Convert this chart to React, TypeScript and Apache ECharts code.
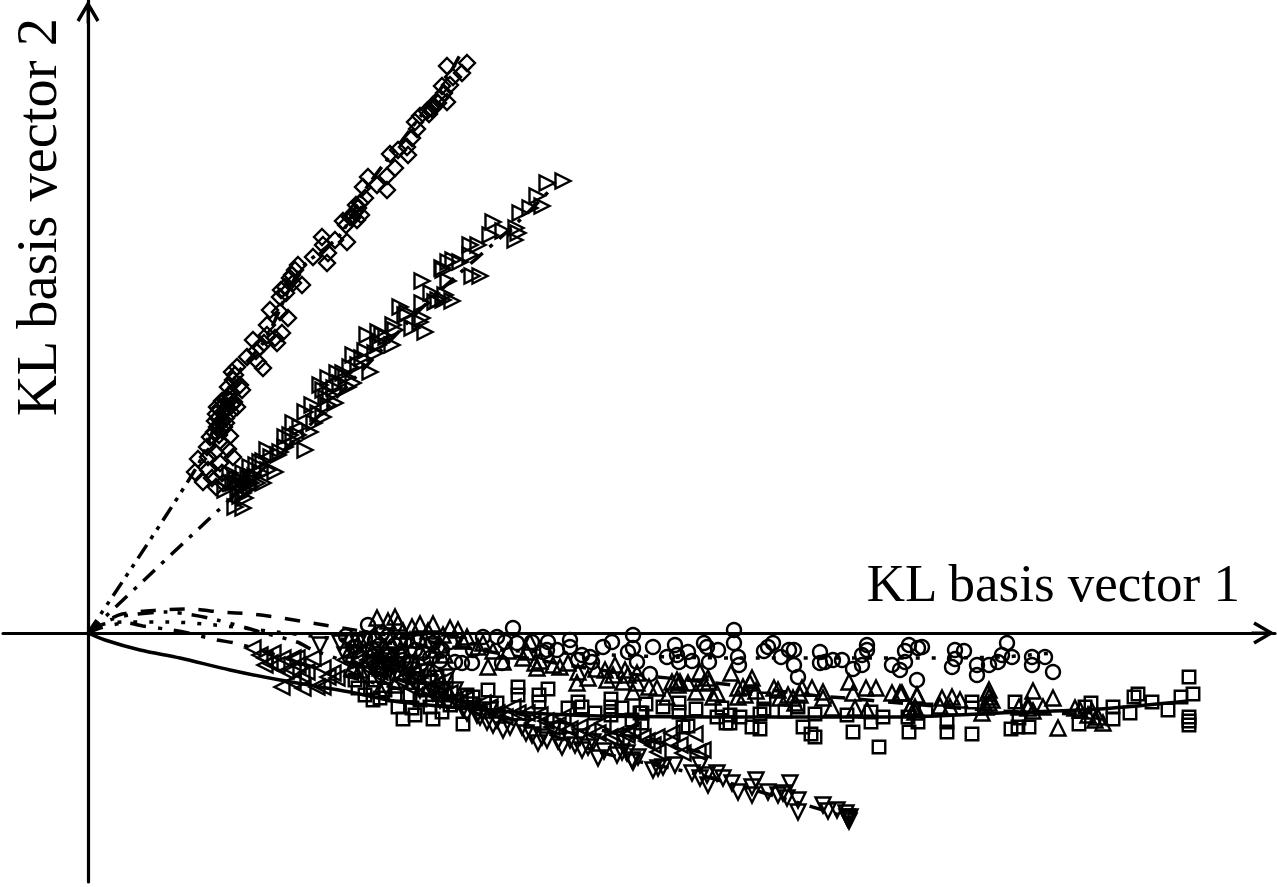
import React, { useEffect, useRef } from "react";
import * as echarts from "echarts";

const xAxisTitle = "KL basis vector 1";
const yAxisTitle = "KL basis vector 2";

const diamondPoints = [[379,570],[374,560],[359,567],[365,556],[354,547],[362,548],[359,531],[350,530],[345,528],[339,522],[332,517],[327,511],[329,504],[324,495],[319,486],[320,478],[310,483],[302,479],[307,465],[299,457],[289,448],[299,443],[280,456],[275,446],[277,435],[272,430],[267,421],[269,413],[255,412],[262,416],[247,393],[259,391],[234,396],[235,388],[240,380],[239,370],[225,376],[210,368],[207,363],[202,355],[214,348],[197,346],[204,358],[192,336],[182,323],[192,321],[200,315],[179,308],[165,293],[179,298],[194,300],[172,286],[189,290],[159,276],[170,271],[175,265],[149,266],[144,261],[145,253],[140,246],[154,243],[139,235],[129,226],[149,226],[139,226],[135,220],[130,215],[129,206],[134,203],[122,196],[142,197],[119,186],[134,190],[140,184],[127,181],[120,176],[110,174],[145,176],[132,170],[107,161],[120,163],[134,160],[115,151],[124,155],[128,146],[135,150],
  [134,232],[137,229],[142,233],[131,224],[136,222],[143,221],[128,219],[133,212],[138,215],[144,228],[127,212],[131,208],[136,206],[126,201],[131,198],[138,210],[141,238],[146,231],[270,425],[273,418],[264,415],[268,428],[258,408],[344,524],[341,519],[352,535],[356,540],[193,343],[198,340],[205,350],[168,282],[176,290],[187,295],[147,258],[152,248]];

const rightTrianglePoints = [[475,452],[459,450],[449,437],[454,427],[432,420],[428,405],[427,393],[405,411],[402,398],[390,388],[382,388],[382,378],[372,371],[360,371],[354,365],[357,338],[350,333],[332,311],[337,301],[307,303],[290,301],[290,288],[334,352],[392,357],[384,357],[364,332],[355,333],[347,331],[334,330],[312,326],[319,320],[334,315],[324,305],[279,298],[294,298],[305,308],[304,288],[292,290],[265,278],[274,275],[282,261],[262,266],[260,246],[265,250],[240,255],[249,260],[255,260],[232,248],[235,243],[242,238],[247,230],[235,216],[224,228],[217,221],[205,210],[212,206],[222,201],[217,183],[197,196],[202,198],[192,181],[179,183],[172,171],[187,161],[180,163],[162,166],[175,150],[159,150],[149,150],[142,160],[137,143],[155,140],[147,126],[155,125],[164,156],[155,160],[162,146],
  [355,363],[365,373],[150,145],[155,148],[158,143],[163,150],[145,150],[152,153],[160,155],[167,157],[147,155],[169,150],[173,160],[152,137],[157,135],[168,168],[175,172],[183,176],[190,178],[197,186],[205,192],[210,198],[226,210],[230,220],[240,228],[238,235],[246,245],[252,250],[258,256],[270,268],[277,282],[287,280],[298,296],[317,318],[343,340],[360,352],[415,402],[430,400],[442,425]];

const circlePoints = [[280,8],[425,5],[264,-7],[395,-4],[409,-4],[417,-9],[367,-29],[374,-30],[384,-30],[414,-30],[342,-25],[354,-17],[385,-17],[429,-10],[444,-9],[460,-9],[459,-17],[469,-17],[482,-7],[482,-14],[494,-22],[490,-27],[502,-24],[504,-29],[515,-14],[524,-9],[540,-19],[545,-2],[545,-15],[549,-29],[324,-30],[294,0],[277,-5],[285,-17],[272,-24],[319,-7],[335,-20],[362,-9],[455,-19],[562,-41],[565,-14],[579,-24],[587,-12],[589,-22],[591,-29],[600,-19],[604,-28],[616,-10],[619,-14],[630,-17],[621,-29],[646,3],[646,-10],[650,-24],[651,-32],[676,-18],[680,-14],[685,-10],[693,-24],[701,-17],[706,-17],[706,-32],[710,-44],[732,-19],[732,-30],[737,-29],[745,-27],[754,-27],[765,-36],[774,-22],[774,-32],[779,-12],[779,-17],[804,-32],[812,-37],[817,-18],[817,-29],[821,-12],[829,-47],[830,-15],[834,-14],[867,-17],[876,-18],[867,-26],[864,-34],[889,-32],[889,-42],[901,-32],[910,-29],[914,-22],[919,-10],[924,-24],[944,-24],[944,-32],[957,-24],[965,-39],[292,-12],[307,-12],[327,-17],[312,-7],[302,-22],
  [282,-32],[297,-30],[315,-27],[287,-7],[300,-3],[345,-10],[352,-28],[268,-14],[258,-3],[330,-9]];

const upTrianglePoints = [[289,15],[307,16],[310,10],[332,9],[345,9],[324,6],[362,5],[370,3],[379,-4],[442,-9],[439,-19],[395,-10],[400,-34],[415,-29],[449,-35],[447,-30],[465,-32],[472,-34],[490,-39],[489,-50],[500,-45],[519,-47],[517,-37],[527,-32],[537,-37],[535,-49],[549,-40],[264,-35],[272,-7],[287,-2],[302,-7],[322,-7],[337,-7],[352,-12],[282,-22],[297,-17],[312,-17],[332,-17],[347,-17],[357,-22],[272,-37],[292,-35],[312,-39],[327,-32],[342,-35],[292,-57],[307,-52],[262,-17],[549,-50],[561,-54],[569,-55],[545,-59],[579,-64],[584,-49],[589,-47],[592,-49],[612,-39],[620,-45],[621,-49],[608,-59],[629,-60],[625,-64],[643,-40],[664,-45],[655,-54],[650,-55],[650,-64],[657,-62],[686,-55],[690,-57],[692,-65],[705,-65],[707,-70],[714,-55],[724,-55],[735,-59],[735,-65],[744,-75],[761,-49],[765,-60],[778,-55],[788,-55],[804,-60],[812,-60],[829,-62],[767,-75],[779,-77],[822,-75],[827,-74],[814,-60],[829,-63],[822,-75],[827,-79],[854,-65],[864,-64],[872,-67],[852,-73],[862,-74],[901,-57],[901,-64],[901,-70],[894,-80],[945,-58],[965,-65],[931,-74],[940,-75],[955,-74],[970,-95],[987,-75],[1007,-87],[1015,-90],[992,-77],
  [300,12],[315,2],[340,2],[355,-2],[375,-8],[390,-14],[405,-18],[420,-18],[435,-25],[452,-28],[480,-30],[508,-36],[525,-42],[540,-42],[590,-52],[600,-50],[616,-50],[900,-60],[904,-67],[898,-74],[940,-72],[945,-78],[1000,-82],[1004,-78],[1010,-84],[700,-62],[712,-62],[662,-50],[668,-58]];

const squarePoints = [[267,-47],[270,-55],[285,-67],[292,-65],[285,-55],[310,-74],[324,-75],[327,-82],[315,-86],[345,-86],[342,-74],[354,-79],[375,-91],[349,-44],[400,-57],[430,-54],[430,-62],[460,-56],[451,-62],[451,-69],[409,-70],[385,-64],[379,-62],[490,-69],[480,-75],[494,-74],[507,-80],[523,-66],[523,-74],[523,-82],[534,-75],[544,-87],[552,-80],[554,-90],[554,-80],[558,-71],[575,-74],[591,-70],[591,-79],[608,-76],[595,-94],[600,-93],[629,-84],[634,-75],[638,-90],[642,-82],[642,-90],[652,-84],[664,-94],[672,-96],[672,-81],[676,-66],[676,-76],[697,-78],[710,-74],[715,-94],[723,-101],[727,-104],[727,-81],[759,-82],[765,-99],[783,-79],[783,-89],[795,-84],[791,-114],[821,-99],[820,-84],[830,-89],[838,-77],[859,-89],[859,-99],[884,-101],[884,-69],[884,-75],[927,-69],[931,-85],[923,-96],[930,-94],[941,-94],[991,-91],[1003,-70],[997,-74],[1025,-74],[1025,-86],[1042,-80],[1046,-64],[1050,-61],[1064,-69],[1080,-77],[1093,-64],[1105,-61],[1101,-44],[1101,-84],[1101,-88],[1101,-92],[287,-47],[297,-57],[307,-62],[322,-62],[337,-57],[357,-62],[277,-62],[362,-72],[332,-67]];

const leftTrianglePoints = [[165,-15],[177,-25],[185,-20],[177,-32],[195,-25],[205,-25],[209,-25],[189,-32],[205,-37],[219,-39],[214,-42],[194,-54],[205,-49],[215,-55],[235,-54],[229,-54],[225,-25],[235,-35],[245,-40],[240,-44],[249,-45],[545,-97],[555,-104],[559,-108],[569,-104],[584,-100],[607,-101],[582,-109],[592,-112],[565,-112],[595,-120],[570,-119],[615,-117],[610,-119],[539,-102],[539,-99],[522,-104],[515,-90],[475,-84],[452,-82],[425,-74],[409,-80],[385,-74],[362,-60],[349,-50],[329,-44],[309,-34],[292,-39],[272,-27],[285,-20],[322,-54],[339,-57],[372,-64],[395,-70],[439,-80],[464,-94],[492,-94],[257,-27],[267,-37],[277,-17],[297,-32],[312,-47],[332,-37],[347,-62],[357,-47],
  [280,-27],[288,-34],[295,-44],[303,-24],[317,-30],[325,-40],[340,-47],[352,-57],[367,-67],[378,-66],[390,-78],[402,-74],[417,-84],[430,-80],[445,-90],[458,-88],[470,-92],[482,-96],[500,-98],[510,-100],[528,-102],[172,-22],[182,-30],[198,-38],[210,-32]];

const downTrianglePoints = [[534,-119],[539,-120],[545,-129],[550,-124],[565,-137],[570,-135],[575,-134],[587,-132],[612,-132],[604,-140],[612,-145],[620,-152],[619,-142],[629,-140],[635,-145],[644,-150],[650,-159],[664,-162],[664,-154],[668,-147],[680,-159],[690,-162],[695,-160],[702,-150],[699,-165],[710,-167],[710,-179],[735,-172],[740,-178],[749,-177],[759,-184],[761,-188],[474,-114],[494,-117],[510,-125],[529,-122],[544,-127],[537,-110],[505,-109],[450,-110],[415,-97],[444,-102],[399,-89],[379,-80],[369,-70],[355,-57],[342,-50],[325,-47],[302,-37],[282,-30],[265,-20],[252,-10],[459,-107],[482,-107],[492,-104],[465,-97],[434,-94],[389,-82],[409,-87],[359,-44],[337,-39],[312,-24],[295,-24],[309,-40],[270,-10],[232,-12],[257,-22],[277,-42],[292,-47],[307,-32],[322,-37],[332,-57],[352,-67],[367,-57],[382,-72],[402,-77],
  [290,-35],[300,-28],[318,-42],[328,-50],[345,-60],[360,-70],[375,-76],[392,-84],[405,-92],[422,-94],[438,-100],[454,-104],[470,-108],[487,-112],[500,-114],[516,-118],[760,-186],[758,-180],[762,-184]];

const squareCurve = [[0,0],[17,-7],[52,-17],[92,-25],[142,-37],[192,-47],[262,-59],[312,-69],[412,-78],[512,-83],[712,-84],[812,-84],[912,-80],[1012,-76],[1100,-68]];
const upTriangleCurve = [[0,0],[17,11],[34,19],[72,23],[102,24],[132,21],[164,19],[194,15],[224,10],[254,5],[362,-12],[512,-37],[645,-52],[675,-56],[732,-63],[769,-66],[800,-69],[912,-78],[990,-81]];
const circleCurve = [[0,0],[12,8],[35,11],[80,11],[127,8],[189,1],[262,-7],[412,-17],[647,-25],[812,-25],[912,-24],[965,-20]];
const leftTriangleCurve = [[0,0],[12,5],[39,10],[55,7],[84,3],[100,0],[129,-7],[147,-10],[172,-17],[242,-39],[362,-67],[512,-97],[612,-119]];
const downTriangleCurve = [[0,0],[22,13],[42,18],[77,21],[105,18],[129,13],[159,5],[172,1],[209,-9],[225,-17],[312,-47],[412,-82],[512,-119],[612,-142],[762,-185]];
const diamondCurve = [[0,0],[107,163],[127,208],[137,238],[152,263],[177,293],[212,363],[252,398],[277,443],[322,503],[352,543],[372,578]];
const rightTriangleCurve = [[0,0],[152,143],[212,198],[282,271],[342,333],[432,413],[467,448]];

const ink = "#000";
const chevron = "path://M50,0 L100,85 L87,93 L56,40 L56,100 L44,100 L44,40 L13,93 L0,85 Z";

const marks = (name: string, data: number[][], symbol: string, size: number, rotate = 0) => ({
  name,
  type: "scatter",
  data,
  symbol,
  symbolSize: size,
  symbolRotate: rotate,
  itemStyle: { color: "rgba(0,0,0,0)", borderColor: ink, borderWidth: 2.4, opacity: 1 },
  silent: true,
  z: 3,
});

const curve = (name: string, data: number[][], dash: number[] | string) => ({
  name,
  type: "line",
  data,
  smooth: 0.3,
  showSymbol: false,
  symbol: "none",
  lineStyle: { color: ink, width: 3.5, type: dash, cap: "butt" },
  silent: true,
  z: 4,
});

const axisCommon = {
  type: "value",
  splitLine: { show: false },
  axisTick: { show: false },
  axisLabel: { show: false },
  axisLine: {
    show: true,
    onZero: true,
    symbol: ["none", chevron],
    symbolSize: [23, 24],
    symbolOffset: [0, -12],
    lineStyle: { color: ink, width: 3.2 },
  },
};

export default function App() {
  const ref = useRef<HTMLDivElement>(null);
  useEffect(() => {
    const chart = echarts.init(ref.current!, undefined, { renderer: "svg" });
    chart.setOption({
      animation: false,
      backgroundColor: "#fff",
      textStyle: { fontFamily: "Liberation Serif" },
      grid: { left: 3, top: 0, width: 1272, height: 882 },
      xAxis: {
        ...axisCommon,
        min: -85,
        max: 1187,
        name: xAxisTitle,
        nameLocation: "end",
        nameGap: -35,
        nameTextStyle: {
          fontFamily: "Liberation Serif",
          fontSize: 53,
          color: ink,
          align: "right",
          verticalAlign: "bottom",
          padding: [0, 0, 24, 0],
        },
      },
      yAxis: {
        ...axisCommon,
        min: -249,
        max: 633,
        name: yAxisTitle,
        nameLocation: "end",
        nameGap: -18,
        nameRotate: 90,
        nameTextStyle: {
          fontFamily: "Liberation Serif",
          fontSize: 56.5,
          color: ink,
          align: "right",
          verticalAlign: "bottom",
          padding: [0, 0, 23, 0],
        },
      },
      series: [
        marks("Circles", circlePoints, "circle", 14),
        marks("Up triangles", upTrianglePoints, "triangle", 15),
        marks("Squares", squarePoints, "rect", 12.5),
        marks("Left triangles", leftTrianglePoints, "triangle", 15, 90),
        marks("Down triangles", downTrianglePoints, "triangle", 15, 180),
        marks("Diamonds", diamondPoints, "diamond", 16),
        marks("Right triangles", rightTrianglePoints, "triangle", 15, -90),
        curve("Squares fit", squareCurve, "solid"),
        curve("Up triangles fit", upTriangleCurve, [15, 14]),
        curve("Circles fit", circleCurve, [4, 12]),
        curve("Left triangles fit", leftTriangleCurve, [16, 12, 4, 12]),
        curve("Down triangles fit", downTriangleCurve, [16, 10, 4, 10, 4, 10]),
        curve("Diamonds fit", diamondCurve, [16, 7, 4, 7, 4, 7]),
        curve("Right triangles fit", rightTriangleCurve, [16, 9, 4, 9]),
      ],
    });
    return () => chart.dispose();
  }, []);
  return <div ref={ref} style={{ position: "absolute", left: 0, top: 0, width: 1277, height: 887 }} />;
}
